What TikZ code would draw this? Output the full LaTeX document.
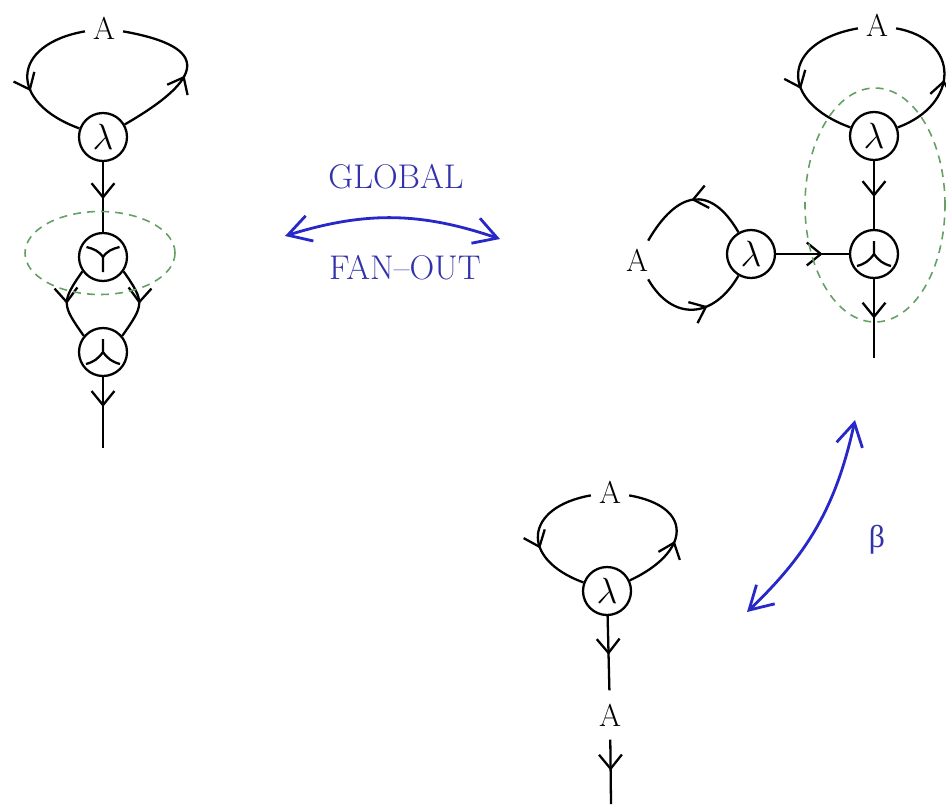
\documentclass[tikz,border=0pt]{standalone}
\usepackage{fontspec}
\newfontfamily\greekfont{Liberation Serif}
\usetikzlibrary{arrows.meta, decorations.markings}
\definecolor{netblue}{RGB}{40,40,200}
\definecolor{nettext}{RGB}{50,50,170}
\definecolor{netgreen}{RGB}{100,160,100}

\begin{document}
\begin{tikzpicture}[
    line width=1.3pt,
    vtx/.style={draw, circle, minimum size=0.96cm, inner sep=0pt,
                font=\fontsize{20}{20}\selectfont},
    lbl/.style={font=\fontsize{18}{18}\selectfont, inner sep=4pt},
    flow/.style={postaction={decorate, decoration={markings,
        mark=at position #1 with {\arrow{Straight Barb[length=8pt,width=13pt]}}}}},
    flow/.default=0.5,
    fanout/.style={vtx, path picture={
        \draw[line width=1.3pt] (path picture bounding box.center) -- ++(0,-0.3)
          (path picture bounding box.center) to[out=125,in=-15] ++(-0.33,0.2)
          (path picture bounding box.center) to[out=55,in=195] ++(0.33,0.2);}},
    fanin/.style={vtx, path picture={
        \draw[line width=1.3pt] (path picture bounding box.center) -- ++(0,0.26)
          (path picture bounding box.center) to[out=235,in=15] ++(-0.34,-0.24)
          (path picture bounding box.center) to[out=-55,in=165] ++(0.34,-0.24);}},
    grp/.style={draw=netgreen, dash pattern=on 4.5pt off 3.5pt, line width=0.9pt},
    swap/.style={draw=netblue, line width=1.6pt, <->,
                 >={Straight Barb[length=13pt,width=15pt]}},
    tag/.style={text=nettext, font=\fontsize{19.5}{22}\selectfont}
  ]
    \useasboundingbox (0,0) rectangle (18.92,-16.08);

    % left net: lambda feeding a fan-out, then a fan-in
    \node[lbl]    (A1)   at (2.08,-0.56) {A};
    \node[vtx]    (lam1) at (2.06,-2.74) {$\lambda$};
    \node[fanout] (Y1)   at (2.06,-5.14) {};
    \node[fanin]  (V1)   at (2.06,-7.04) {};
    \coordinate   (end1) at (2.06,-8.96);

    \draw[flow=0.6]  (A1) to[out=190,in=160,looseness=2] (lam1);
    \draw[flow=0.47] (lam1) to[out=30,in=-10,looseness=2.5] (A1);
    \draw[flow=0.53] (lam1) -- (Y1);
    \draw[flow] (Y1.215) to[out=235,in=125,looseness=1.5] (V1.140);
    \draw[flow] (Y1.-35) to[out=-55,in=55,looseness=1.5] (V1.40);
    \draw[flow=0.42] (V1) -- (end1);
    \draw[grp] (2.0,-5.06) ellipse [x radius=1.5, y radius=0.83];

    % right net: two lambdas meeting in a fan-in
    \node[lbl]   (A2)   at (17.54,-0.5) {A};
    \node[vtx]   (lam2) at (17.48,-2.72) {$\lambda$};
    \node[fanin] (V2)   at (17.48,-5.08) {};
    \node[vtx]   (lam3) at (15.02,-5.08) {$\lambda$};
    \node[lbl]   (A3)   at (12.74,-5.2) {A};
    \coordinate  (end2) at (17.48,-7.16);

    \draw[flow=0.6]  (A2) to[out=190,in=160,looseness=2] (lam2);
    \draw[flow=0.47] (lam2) to[out=20,in=-10,looseness=1.7] (A2);
    \draw[flow=0.53] (lam2) -- (V2);
    \draw[flow=0.64] (lam3) -- (V2);
    \draw[flow] (lam3) to[out=120,in=60,looseness=1.6] (A3);
    \draw[flow=0.62] (A3) to[out=-60,in=-120,looseness=1.4] (lam3);
    \draw[flow=0.5] (V2) -- (end2);
    \draw[grp] (17.5,-4.1) ellipse [x radius=1.4, y radius=2.34];

    % bottom net: lambda applied to A
    \node[lbl] (A4)   at (12.2,-9.84) {A};
    \node[vtx] (lam4) at (12.14,-11.82) {$\lambda$};
    \node[lbl, inner ysep=7pt] (A5) at (12.2,-14.3) {A};
    \coordinate (end3) at (12.22,-16.08);

    \draw[flow=0.6]  (A4) to[out=190,in=160,looseness=2] (lam4);
    \draw[flow=0.45] (lam4) to[out=25,in=-10,looseness=2] (A4);
    \draw[flow=0.52] (lam4) -- (A5);
    \draw[flow=0.48] (A5) -- (end3);

    % rewrite steps
    \coordinate (gl) at (5.7,-4.72);
    \coordinate (gr) at (10.0,-4.78);
    \draw[swap] (gl) to[bend left=18] (gr);
    \node[tag] (glob) at (7.92,-3.54) {GLOBAL};
    \node[tag] (fan)  at (8.1,-5.36) {FAN--OUT};

    \coordinate (bl) at (14.94,-12.24);
    \coordinate (bt) at (17.1,-8.4);
    \draw[swap] (bl) to[bend right=17] (bt);
    \node[tag, font=\greekfont\fontsize{18}{20}\selectfont] (beta) at (17.54,-10.8) {β};
\end{tikzpicture}
\end{document}
